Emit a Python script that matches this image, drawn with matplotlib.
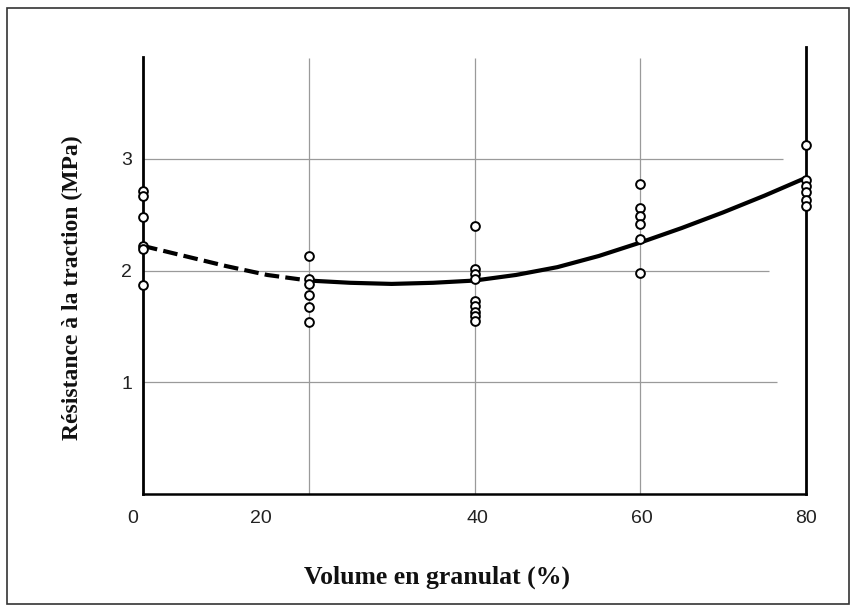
"""Résistance à la traction vs volume en granulat (scan recreation)."""

import matplotlib
matplotlib.use("Agg")
import matplotlib.pyplot as plt
import matplotlib.transforms as mtransforms
from matplotlib.patches import Rectangle

# ── data ──
VOL_0 = [2.71, 2.67, 2.48, 2.22, 2.19, 1.87]
VOL_20 = [2.13, 1.92, 1.88, 1.78, 1.67, 1.54]
VOL_40 = [2.40, 2.01, 1.97, 1.92, 1.73, 1.68, 1.63, 1.59, 1.55]
VOL_60 = [2.77, 2.56, 2.49, 2.42, 2.28, 1.98]
VOL_80 = [3.12, 2.81, 2.76, 2.70, 2.63, 2.58]
GROUP_X = [0, 20, 40, 60, 80]

CURVE_DASH_X = [0, 5, 10, 15, 20]
CURVE_DASH_Y = [2.22, 2.13, 2.04, 1.96, 1.91]
CURVE_X = [20, 25, 30, 35, 40, 45, 50, 55, 60, 65, 70, 75, 80]
CURVE_Y = [1.91, 1.89, 1.88, 1.89, 1.91, 1.96, 2.03, 2.13, 2.25, 2.38, 2.52, 2.67, 2.83]

XTICK_LABELS = ["0", "20", "40", "60", "80"]
YTICKS = [1, 2, 3]
XLABEL = "Volume en granulat (%)"
YLABEL = "Résistance à la traction (MPa)"

# layout (label positions as printed on the scan, slightly off the grid)
XTICK_LABEL_POS = [-1.2, 14.2, 40.3, 60.2, 80.0]

W, H = 854, 607
fig = plt.figure(figsize=(W / 100, H / 100), dpi=100)

# outer frame of the scan
fig.patches.append(Rectangle((7 / W, 3 / H), 842 / W, 596 / H, transform=fig.transFigure,
                             fill=False, edgecolor="#333333", linewidth=1.2))

left, right, bottom, top = 143, 806, 494, 47
ax = fig.add_axes([left / W, (H - bottom) / H, (right - left) / W, (bottom - top) / H])
ax.set_xlim(0, 80)
ax.set_ylim(0, 4.0)

# grid (hand drawn look: horizontal lines stop short of the right axis)
ax.hlines(YTICKS, 0, [76.5, 75.5, 77.2], colors="#9a9a9a", linewidth=0.9, zorder=1)
ax.vlines([20, 40, 60], 0, 3.9, colors="#9a9a9a", linewidth=0.9, zorder=1)

# spines
ax.spines["top"].set_visible(False)
ax.spines["left"].set_linewidth(2.0)
ax.spines["left"].set_bounds(0, 3.91)
ax.spines["bottom"].set_linewidth(1.8)
ax.spines["right"].set_linewidth(2.0)
ax.spines["right"].set_bounds(0, 4.0)

# data points
for x, vals in zip(GROUP_X, [VOL_0, VOL_20, VOL_40, VOL_60, VOL_80]):
    ax.plot([x] * len(vals), vals, "o", mfc="white", mec="black", ms=6.3, mew=1.4,
            zorder=4, clip_on=False)

# fitted curve
ax.plot(CURVE_DASH_X, CURVE_DASH_Y, color="black", linewidth=3.0,
        linestyle=(0, (3.5, 1.5)), zorder=3, clip_on=False)
ax.plot(CURVE_X, CURVE_Y, color="black", linewidth=3.0, zorder=3,
        solid_capstyle="round", clip_on=False)

# ticks: y on the axis, x labels placed where the scan printed them
ax.set_xticks([])
ax.set_yticks(YTICKS)
ax.set_yticklabels([str(v) for v in YTICKS], fontsize=14, family="Liberation Sans",
                   color="#222222")
ax.tick_params(axis="y", length=0, pad=8)
xlab_tr = mtransforms.blended_transform_factory(ax.transData, ax.transAxes)
for pos, lab in zip(XTICK_LABEL_POS, XTICK_LABELS):
    ax.text(pos, -0.054, lab, transform=xlab_tr, ha="center", va="center",
            fontsize=14, family="Liberation Sans", color="#222222")

# axis titles
fig.text(437 / W, 1 - 577 / H, XLABEL, ha="center", va="center",
         family="Liberation Serif", fontweight="bold", fontsize=18.5, color="#111111")
fig.text(72 / W, 1 - 288 / H, YLABEL, ha="center", va="center", rotation=90,
         family="Liberation Serif", fontweight="bold", fontsize=17, color="#111111")

fig.savefig("out.png", dpi=100)
